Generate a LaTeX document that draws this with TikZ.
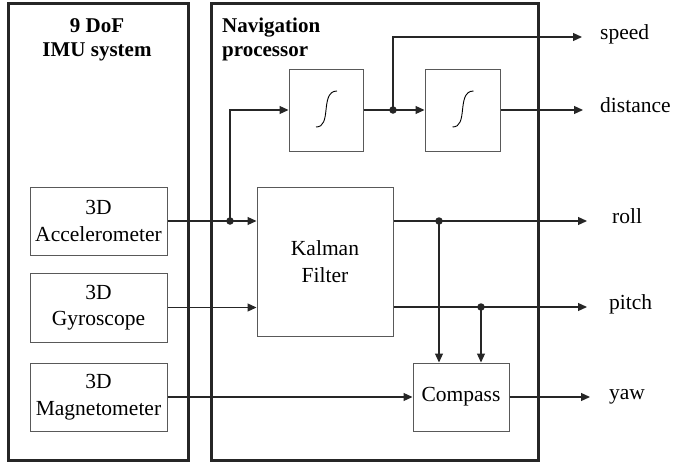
\documentclass[tikz,border=0pt]{standalone}
\usepackage{fontspec}
\setmainfont{Liberation Serif}
\usetikzlibrary{arrows.meta}
\begin{document}
\begin{tikzpicture}[x=1pt,y=-1pt,
  big/.style={draw=black!85, line width=3pt, inner sep=0pt},
  blk/.style={draw=black!65, line width=1pt, inner sep=0pt, align=center,
    font=\fontsize{21.5}{26.5}\selectfont},
  con/.style={draw=black!85, line width=1.2pt},
  arr/.style={con, -{Triangle[length=9pt,width=8pt]}},
  dot/.style={circle, fill=black!85, inner sep=0pt, minimum size=7.5pt},
  lbl/.style={anchor=mid west, inner sep=0pt, font=\fontsize{21.5}{24}\selectfont},
  ttl/.style={inner sep=0pt, font=\fontsize{21}{24}\bfseries\selectfont},
  intg/.style={draw=black, line width=0.9pt}]
\useasboundingbox (0,0) rectangle (673,466);

% big frames
\node[big, minimum width=180.5, minimum height=457] (imu) at (98.25,231.5) {};
\node[big, minimum width=327.5, minimum height=457] (nav) at (374.75,231.5) {};

% titles
\node[ttl, align=center, anchor=north] (imut) at (97,18) {9 DoF\\IMU system};
\node[ttl, align=left, anchor=north west] (navt) at (222,18) {Navigation\\processor};

% sensor blocks
\node[blk, minimum width=137, minimum height=68] (acc) at (98.5,221) {3D\\Accelerometer};
\node[blk, minimum width=137, minimum height=69] (gyr) at (98.5,307.5) {3D\\Gyroscope};
\node[blk, minimum width=137, minimum height=68] (mag) at (98.5,397) {3D\\Magnetometer};

% processor blocks
\node[blk, minimum width=74, minimum height=82] (int1) at (326,110) {};
\node[blk, minimum width=75, minimum height=82] (int2) at (462.5,110) {};
\node[blk, minimum width=136, minimum height=149] (kal) at (325,261.5) {Kalman\\Filter};
\node[blk, minimum width=96, minimum height=68] (cmp) at (461,397) {Compass};

% integral signs
\foreach \n in {int1,int2}
  \draw[intg] ([shift={(-10,17)}]\n.center)
    .. controls ([shift={(-2,17)}]\n.center) and ([shift={(-1,9)}]\n.center) .. (\n.center)
    .. controls ([shift={(1,-9)}]\n.center) and ([shift={(2,-19)}]\n.center) .. ([shift={(11,-19)}]\n.center);

% output labels
\node[lbl] (speed) at (600,37) {speed};
\node[lbl] (dist) at (600,110) {distance};
\node[lbl] (roll) at (612,221) {roll};
\node[lbl] (pitch) at (609,307) {pitch};
\node[lbl] (yaw) at (609,397) {yaw};

% coordinates
\coordinate (accj) at (230,221);
\coordinate (spj) at (393,110);
\coordinate (rj) at (439,221);
\coordinate (pj) at (481,307);
\coordinate (spdtip) at (582,37);
\coordinate (disttip) at (583,110);
\coordinate (rolltip) at (587,221);
\coordinate (pitchtip) at (587,307);
\coordinate (yawtip) at (590,397);

% connectors
\draw[con] (acc.east) -- (accj);
\draw[arr] (accj) -- (accj -| kal.west);
\draw[arr] (accj) |- (int1.west);
\draw[arr] (gyr.east) -- (gyr.east -| kal.west);
\draw[arr] (mag.east) -- (mag.east -| cmp.west);

\draw[con] (int1.east) -- (spj);
\draw[arr] (spj) -- (int2.west);
\draw[arr] (spj) |- (spdtip);
\draw[arr] (int2.east) -- (disttip);

\draw[con] (kal.east |- rj) -- (rj);
\draw[arr] (rj) -- (rolltip);
\draw[arr] (rj) -- (rj |- cmp.north);
\draw[con] (kal.east |- pj) -- (pj);
\draw[arr] (pj) -- (pitchtip);
\draw[arr] (pj) -- (pj |- cmp.north);
\draw[arr] (cmp.east) -- (yawtip);

% junction dots
\node[dot] (d1) at (accj) {};
\node[dot] (d2) at (spj) {};
\node[dot] (d3) at (rj) {};
\node[dot] (d4) at (pj) {};
\end{tikzpicture}
\end{document}
